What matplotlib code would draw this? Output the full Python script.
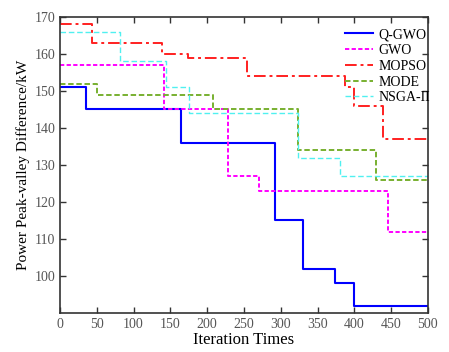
import matplotlib.pyplot as plt
import numpy as np

plt.rcParams['font.family'] = ['Liberation Serif', 'DejaVu Serif']

# step change points (iteration) and levels (kW)
qgwo_x = [0, 35, 164, 292, 330, 374, 400, 500]
qgwo_y = [151, 145, 136, 115, 102, 98, 92, 92]

gwo_x = [0, 142, 228, 270, 446, 500]
gwo_y = [157, 145, 127, 123, 112, 112]

mopso_x = [0, 44, 138, 174, 254, 387, 400, 439, 500]
mopso_y = [168, 163, 160, 159, 154, 151, 146, 137, 137]

mode_x = [0, 50, 208, 324, 430, 500]
mode_y = [152, 149, 145, 134, 126, 126]

nsga_x = [0, 82, 144, 176, 324, 381, 500]
nsga_y = [166, 158, 151, 144, 132, 127, 127]

fig = plt.figure(figsize=(4.49, 3.52), dpi=100)
ax = fig.add_axes([0.1336, 0.111, 0.8194, 0.841])

ax.step(qgwo_x, qgwo_y, where='post', color='#0000ff', lw=1.5, label='Q-GWO')
ax.step(gwo_x, gwo_y, where='post', color='#ff00ff', lw=1.4, ls=(0, (2.2, 1.2)), label='GWO')
ax.step(mopso_x, mopso_y, where='post', color='#ff2020', lw=1.4, ls=(0, (6, 2, 1.5, 2)), label='MOPSO')
ax.step(mode_x, mode_y, where='post', color='#78b030', lw=1.4, ls=(0, (2.8, 1.4)), label='MODE')
ax.step(nsga_x, nsga_y, where='post', color='#50f0f0', lw=1.0, ls=(0, (4, 2)), label='NSGA-II')

ax.set_xlim(0, 500)
ax.set_ylim(90, 170)
ax.set_xticks(np.arange(0, 501, 50))
ax.set_yticks(np.arange(100, 171, 10))
ax.tick_params(direction='in', top=True, right=True, length=4, width=1,
               labelsize=10, labelcolor='#555555', color='#333333')
for s in ax.spines.values():
    s.set_linewidth(1.2)
    s.set_color('#333333')

ax.set_xlabel('Iteration Times', fontsize=12, labelpad=1)
ax.set_ylabel('Power Peak-valley Difference/kW', fontsize=11, labelpad=3)

ax.legend(loc='upper right', frameon=False, fontsize=10, handlelength=2.0,
          labelspacing=0.2, handletextpad=0.4, borderaxespad=0.2,
          bbox_to_anchor=(1.028, 0.99))

fig.savefig('out.png', dpi=100)
